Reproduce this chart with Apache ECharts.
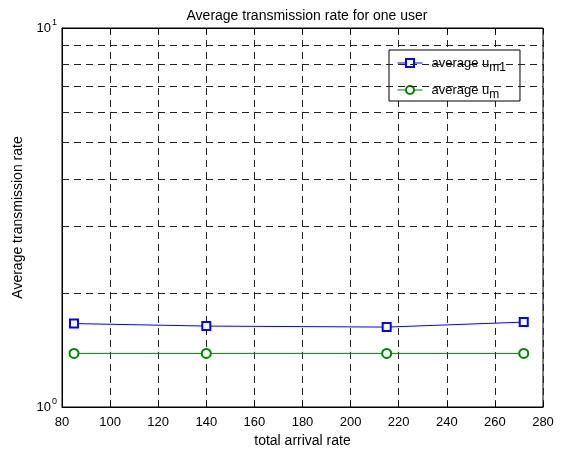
<!DOCTYPE html>
<html><head><meta charset="utf-8">
<script src="https://cdn.jsdelivr.net/npm/echarts@6/dist/echarts.min.js"></script>
<style>html,body{margin:0;padding:0;background:#fff}#c{width:565px;height:453px}</style>
</head><body><div id="c"></div>
<script>
const xValues = [85, 140, 215, 272];
const um1Values = [1.66, 1.635, 1.625, 1.675];
const umValues = [1.385, 1.385, 1.385, 1.385];
const xTicks = [80, 100, 120, 140, 160, 180, 200, 220, 240, 260, 280];
const yMinorGrid = [2, 3, 4, 5, 6, 7, 8, 9];
const seriesNames = ['average u_m1', 'average u_m'];

const F = 'Liberation Sans, Arial, sans-serif';
const chart = echarts.init(document.getElementById('c'));
const dash = {color: '#222', type: [7, 5], width: 1};
chart.setOption({
  animation: false,
  title: {text: 'Average transmission rate for one user', left: 302, textAlign: 'center', top: 4,
    textStyle: {fontFamily: F, fontSize: 14, fontWeight: 'normal', color: '#000'}},
  grid: {left: 62, right: 22, top: 28, bottom: 46, show: true, borderColor: '#000', borderWidth: 1},
  legend: {
    orient: 'vertical', left: 389, top: 50, padding: [2, 14, 0, 8], itemGap: 5,
    backgroundColor: '#fff', borderColor: '#000', borderWidth: 1,
    itemWidth: 25, itemHeight: 10,
    lineStyle: {width: 1},
    itemStyle: {borderWidth: 1},
    data: seriesNames,
    formatter: n => n === seriesNames[0] ? '{a|average u}{s|m1}' : '{a|average u}{s|m}',
    textStyle: {fontFamily: F, fontSize: 13, color: '#000',
      rich: {a: {fontFamily: F, fontSize: 13, color: '#000', lineHeight: 15, padding: [0, 0, 0, 4]},
             s: {fontFamily: F, fontSize: 12, color: '#000', lineHeight: 12, padding: [10, 0, 0, 0]}}}
  },
  xAxis: [{
    type: 'value', min: 80, max: 280, interval: 20,
    axisLine: {show: true, lineStyle: {color: '#000'}},
    axisTick: {show: true, inside: true, length: 5, lineStyle: {color: '#000'}},
    axisLabel: {fontFamily: F, fontSize: 13, color: '#000', margin: 9},
    splitLine: {show: true, lineStyle: dash},
    name: 'total arrival rate', nameLocation: 'middle', nameGap: 24,
    nameTextStyle: {fontFamily: F, fontSize: 14, color: '#000'}
  }, {
    type: 'value', min: 80, max: 280, interval: 20, position: 'top',
    axisLine: {show: true, lineStyle: {color: '#000'}},
    axisTick: {show: true, inside: true, length: 5, lineStyle: {color: '#000'}},
    axisLabel: {show: false}, splitLine: {show: false}
  }],
  yAxis: {
    type: 'log', logBase: 10, min: 1, max: 10,
    axisLine: {show: true, lineStyle: {color: '#000'}},
    axisTick: {show: false},
    axisLabel: {fontFamily: F, fontSize: 13, color: '#000', margin: 5,
      formatter: v => v === 1 ? '{b|10}{p|0}' : '{b|10}{p|1}',
      rich: {b: {fontFamily: F, fontSize: 13, color: '#000'},
             p: {fontFamily: F, fontSize: 9, color: '#000', padding: [0, 0, 11, 1]}}},
    splitLine: {show: false},
    name: 'Average transmission rate', nameLocation: 'middle', nameGap: 33,
    nameTextStyle: {fontFamily: F, fontSize: 14, color: '#000'}
  },
  series: [{
    name: seriesNames[0], type: 'line', data: xValues.map((x, i) => [x, um1Values[i]]),
    symbol: 'emptyRect', symbolSize: 8, color: '#0000ff',
    lineStyle: {width: 1, color: '#0000ff'}, itemStyle: {color: '#0000ff', borderWidth: 1},
    markLine: {silent: true, symbol: 'none', label: {show: false}, lineStyle: dash,
      data: yMinorGrid.map(v => ({yAxis: v}))}
  }, {
    name: seriesNames[1], type: 'line', data: xValues.map((x, i) => [x, umValues[i]]),
    symbol: 'emptyCircle', symbolSize: 9, color: '#008000',
    lineStyle: {width: 1, color: '#008000'}, itemStyle: {color: '#008000', borderWidth: 1}
  }]
});
</script></body></html>
